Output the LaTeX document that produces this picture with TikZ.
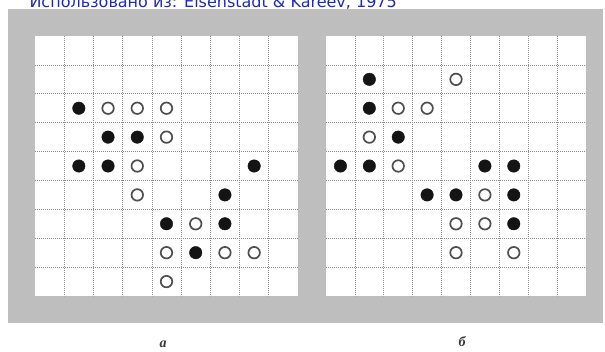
\documentclass[tikz,border=0pt]{standalone}
\usepackage{fontspec}
\usepackage{tikz}
\usetikzlibrary{positioning}
\newfontfamily\fuentecita{DejaVu Sans}
\newfontfamily\fuenterot{Liberation Serif}
\definecolor{fondo}{HTML}{BEBEBE}
\definecolor{linea}{HTML}{8C8C8C}
\definecolor{piedra}{HTML}{141414}
\definecolor{cita}{HTML}{1E2BB5}
\tikzset{
  tablero/.style={fill=white,draw=none},
  rejilla/.style={draw=linea,line width=0.7pt,dash pattern=on 1.2pt off 0.8pt},
  negra/.style={circle,fill=piedra,draw=piedra,inner sep=0pt,minimum size=12.5pt},
  blanca/.style={circle,fill=white,draw=piedra!75,line width=1.7pt,inner sep=0pt,minimum size=11.5pt},
  rotulo/.style={font=\fuenterot\itshape\bfseries\fontsize{14}{14}\selectfont,text=piedra!85,inner sep=0pt},
  textocita/.style={font=\fuentecita\fontsize{16}{16}\selectfont,text=cita,inner sep=0pt,anchor=base east},
}
\begin{document}
\begin{tikzpicture}[x=1pt,y=-1pt]
\useasboundingbox (0,0) rectangle (605,351);
\clip (0,0) rectangle (605,351);
\fill[fondo] (8,9) rectangle (603,323);
\node[textocita] (cita) at (397,7) {Использовано из: Eisenstadt \& Kareev, 1975};
% tablero a
\begin{scope}[shift={(35,36)},x=29.22pt,y=-28.89pt]
\fill[tablero] (0,0) rectangle (9,9);
\foreach \i in {1,...,8} {
  \draw[rejilla] (\i,0) -- (\i,9);
  \draw[rejilla] (0,\i) -- (9,\i);
}
\node[negra] (a23) at (1.5,2.5) {};
\node[blanca] (a33) at (2.5,2.5) {};
\node[blanca] (a43) at (3.5,2.5) {};
\node[blanca] (a53) at (4.5,2.5) {};
\node[negra] (a34) at (2.5,3.5) {};
\node[negra] (a44) at (3.5,3.5) {};
\node[blanca] (a54) at (4.5,3.5) {};
\node[negra] (a25) at (1.5,4.5) {};
\node[negra] (a35) at (2.5,4.5) {};
\node[blanca] (a45) at (3.5,4.5) {};
\node[negra] (a85) at (7.5,4.5) {};
\node[blanca] (a46) at (3.5,5.5) {};
\node[negra] (a76) at (6.5,5.5) {};
\node[negra] (a57) at (4.5,6.5) {};
\node[blanca] (a67) at (5.5,6.5) {};
\node[negra] (a77) at (6.5,6.5) {};
\node[blanca] (a58) at (4.5,7.5) {};
\node[negra] (a68) at (5.5,7.5) {};
\node[blanca] (a78) at (6.5,7.5) {};
\node[blanca] (a88) at (7.5,7.5) {};
\node[blanca] (a59) at (4.5,8.5) {};
\end{scope}
% tablero b
\begin{scope}[shift={(326,36)},x=28.89pt,y=-28.89pt]
\fill[tablero] (0,0) rectangle (9,9);
\foreach \i in {1,...,8} {
  \draw[rejilla] (\i,0) -- (\i,9);
  \draw[rejilla] (0,\i) -- (9,\i);
}
\node[negra] (b22) at (1.5,1.5) {};
\node[blanca] (b52) at (4.5,1.5) {};
\node[negra] (b23) at (1.5,2.5) {};
\node[blanca] (b33) at (2.5,2.5) {};
\node[blanca] (b43) at (3.5,2.5) {};
\node[blanca] (b24) at (1.5,3.5) {};
\node[negra] (b34) at (2.5,3.5) {};
\node[negra] (b15) at (0.5,4.5) {};
\node[negra] (b25) at (1.5,4.5) {};
\node[blanca] (b35) at (2.5,4.5) {};
\node[negra] (b65) at (5.5,4.5) {};
\node[negra] (b75) at (6.5,4.5) {};
\node[negra] (b46) at (3.5,5.5) {};
\node[negra] (b56) at (4.5,5.5) {};
\node[blanca] (b66) at (5.5,5.5) {};
\node[negra] (b76) at (6.5,5.5) {};
\node[blanca] (b57) at (4.5,6.5) {};
\node[blanca] (b67) at (5.5,6.5) {};
\node[negra] (b77) at (6.5,6.5) {};
\node[blanca] (b58) at (4.5,7.5) {};
\node[blanca] (b78) at (6.5,7.5) {};
\end{scope}
\node[rotulo] (rot-a) at (163,344) {а};
\node[rotulo] (rot-b) at (462,342) {б};
\end{tikzpicture}
\end{document}
